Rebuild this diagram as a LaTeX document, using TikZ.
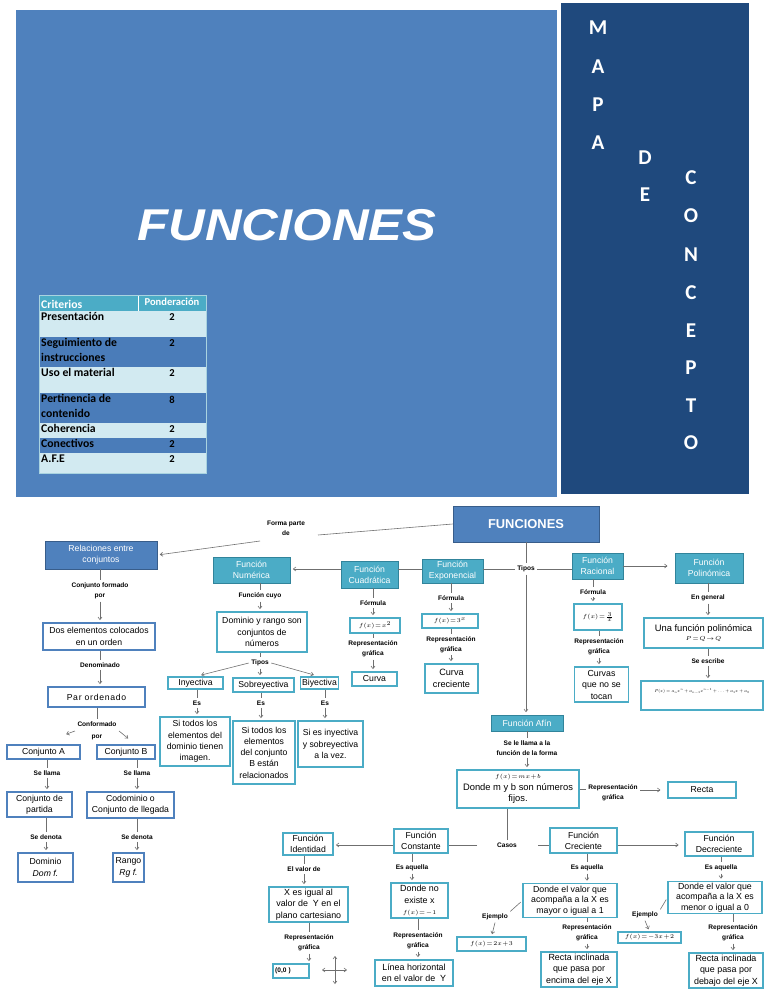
\documentclass[tikz,border=0pt]{standalone}
\usepackage{fontspec}
\usepackage{graphicx}
\setmainfont{Liberation Sans}
\newfontfamily\calib{Carlito}
\usetikzlibrary{arrows.meta}

\definecolor{pageblue}{HTML}{4F81BD}
\definecolor{navy}{HTML}{1F497D}
\definecolor{darkedge}{HTML}{385D8A}
\definecolor{celeste}{HTML}{4BACC6}
\definecolor{celesteedge}{HTML}{31849B}
\definecolor{rowlight}{HTML}{D2EAF1}
\definecolor{rowdark}{HTML}{4A7CB9}
\definecolor{tabline}{HTML}{A9D3E0}
\definecolor{linkgray}{HTML}{6F6F6F}

\newcommand\smallmath[1]{{\fontsize{5}{6}\selectfont$\medmuskip=1mu\thickmuskip=1.5mu #1$}}

\begin{document}
\begin{tikzpicture}[x=0.03cm, y=-0.03cm,
  >={Straight Barb[length=2.2pt,width=3.4pt]},
  sz/.style 2 args={minimum width=#1*0.03cm, minimum height=#2*0.03cm},
  base/.style={inner sep=0pt, align=center, font=\fontsize{7.4}{9.6}\selectfont},
  darkbox/.style={base, fill=pageblue, draw=darkedge, line width=0.8pt, text=white},
  tealbox/.style={base, fill=celeste, draw=celesteedge, line width=0.8pt, text=white},
  wbox/.style={base, fill=white, draw=celeste, line width=0.9pt},
  bbox/.style={base, fill=white, draw=pageblue, line width=0.9pt},
  lbl/.style={inner sep=2pt, align=center, font=\fontsize{5.6}{8.5}\selectfont\bfseries},
  link/.style={draw=linkgray, line width=0.5pt},
  arr/.style={link, ->, shorten >=2pt},
  letter/.style={text=white, inner sep=0pt, font=\calib\fontsize{18}{18}\selectfont\bfseries},
  celltext/.style={inner sep=0pt, anchor=north west, align=left, text=black, font=\calib\fontsize{10}{12.7}\selectfont\bfseries},
  cellval/.style={inner sep=0pt, anchor=north, text=black, font=\calib\fontsize{9}{10}\selectfont\bfseries}]

  \fill[white] (0,0) rectangle (768,994);
  \useasboundingbox (0,0) rectangle (768,994);

  \fill[pageblue] (16,10) rectangle (557,497);
  \fill[navy] (561,3) rectangle (749,494);
  \node[text=white, inner sep=0pt, font=\fontsize{38}{40}\selectfont\bfseries\itshape] (titulo) at (287,225) {\scalebox{1.14}[1]{FUNCIONES}};

  \foreach \ch/\px/\py [count=\i] in {M/598/28, A/598/67, P/598/105, A/598/143, D/645/158, E/645/195,
      C/691/178, O/691/216, N/691/255, C/691/293, E/691/331, P/691/368, T/691/406, O/691/443}
    \node[letter] (letra\i) at (\px,\py) {\ch};

  \fill[celeste] (39,295) rectangle (206,311);
  \draw[white, line width=0.6pt] (138,295) -- (138,311);
  \node[inner sep=0pt, anchor=west, text=white, font=\calib\fontsize{10}{12}\selectfont\bfseries] (crit) at (41,304) {Criterios};
  \node[inner sep=0pt, text=white, font=\calib\fontsize{9}{11}\selectfont\bfseries] (pond) at (172,302) {Ponderación};
  \foreach \ya/\yb/\col/\txt/\val in {311/337/rowlight/Presentación/2,
      337/367/rowdark/{Seguimiento de\\instrucciones}/2,
      367/393/rowlight/Uso el material/2,
      393/423/rowdark/{Pertinencia de\\contenido}/8,
      423/438/rowlight/Coherencia/2,
      438/453/rowdark/Conectivos/2,
      453/473/rowlight/A.F.E/2}{
    \fill[\col] (39,\ya) rectangle (206,\yb);
    \draw[tabline, line width=0.5pt] (39,\yb) -- (206,\yb);
    \node[celltext] (crit\ya) at (41,\ya+1.5) {\txt};
    \node[cellval] (val\ya) at (172,\ya+2.5) {\val};
  }
  \draw[tabline, line width=0.8pt] (39,295) rectangle (206,473);

  \node[darkbox, sz={146}{36}, font=\fontsize{11}{13}\selectfont\bfseries] (fun) at (526,524) {FUNCIONES};
  \node[darkbox, sz={112}{28}] (rel) at (101,555) {Relaciones entre\\conjuntos};
  \node[lbl] (fpd) at (286,528) {Forma parte\\de};
  \coordinate (fp1) at (318,535);
  \coordinate (fp2) at (260,541);
  \draw[link] (fun.west) -- (fp1);
  \draw[arr] (fp2) -- (rel.east);

  \node[lbl] (cfp) at (100,591) {Conjunto formado\\por};
  \node[bbox, sz={112}{27}] (dos) at (99,636.5) {Dos elementos colocados\\en un orden};
  \draw[link] (rel.south -| cfp) -- (cfp.north);
  \draw[arr] (cfp.south) -- (cfp.south |- dos.north);

  \node[lbl] (den) at (100,665) {Denominado};
  \node[bbox, sz={97}{20}] (par) at (96.5,697) {\addfontfeature{LetterSpace=8}Par ordenado};
  \draw[link] (dos.south -| den) -- (den.north);
  \draw[arr] (den.south) -- (den.south |- par.north);

  \node[lbl] (conf) at (97,731) {Conformado\\[2pt]por};
  \coordinate (puntaA) at (64,735);
  \coordinate (puntaB) at (130,740);
  \draw[link] (par.south -| conf) -- (conf.north);
  \draw[arr] (conf.west) -- (puntaA);
  \draw[arr] (conf.east) -- (puntaB);

  \node[bbox, sz={73}{14}] (cA) at (43.5,752) {Conjunto A};
  \node[bbox, sz={58}{14}] (cB) at (126,752) {Conjunto B};
  \node[lbl] (sl1) at (47,773) {Se llama};
  \node[lbl] (sl2) at (137,773) {Se llama};
  \node[bbox, sz={65}{25}] (part) at (39.5,804.5) {Conjunto de\\partida};
  \node[bbox, sz={87}{26}] (codo) at (130.5,805) {Codominio o\\Conjunto de llegada};
  \draw[link] (cA.south -| sl1) -- (sl1.north);
  \draw[arr] (sl1.south) -- (sl1.south |- part.north);
  \draw[link] (cB.south -| sl2) -- (sl2.north);
  \draw[arr] (sl2.south) -- (sl2.south |- codo.north);

  \node[lbl] (sd1) at (46,837) {Se denota};
  \node[lbl] (sd2) at (137,837) {Se denota};
  \node[bbox, sz={55}{29}] (dom) at (45.5,867.5) {Dominio\\\textit{Dom f.}};
  \node[bbox, sz={31}{29}] (rgo) at (128.5,867.5) {Rango\\\textit{Rg f.}};
  \draw[link] (part.south -| sd1) -- (sd1.north);
  \draw[arr] (sd1.south) -- (sd1.south |- dom.north);
  \draw[link] (codo.south -| sd2) -- (sd2.north);
  \draw[arr] (sd2.south) -- (sd2.south |- rgo.north);

  \node[tealbox, sz={77}{26}] (num) at (251.5,570) {Función\\Numérica};
  \node[tealbox, sz={57}{27}] (cuad) at (369.5,574.5) {Función\\Cuadrática};
  \node[tealbox, sz={61}{24}] (expo) at (452.5,571) {Función\\Exponencial};
  \node[lbl] (tipos) at (526,569) {Tipos};
  \node[tealbox, sz={51}{26}] (rac) at (597.5,566) {Función\\Racional};
  \node[tealbox, sz={68}{30}] (pol) at (709,568) {Función\\Polinómica};
  \draw[link] (fun.south) -- (tipos.north);
  \draw[link] (tipos.west) -- (tipos.west -| expo.east);
  \draw[link] (expo.west |- tipos) -- (cuad.east |- tipos);
  \draw[arr] (cuad.west |- tipos) -- (num.east |- tipos);
  \draw[link] (tipos.east) -- (tipos.east -| rac.west);
  \draw[arr, shorten >=6pt] (rac.east) -- (rac.east -| pol.west);

  \node[lbl] (cuyo) at (260,596) {Función cuyo};
  \node[wbox, sz={90}{40}] (dyr) at (262,632) {Dominio y rango son\\conjuntos de\\números};
  \draw[link] (cuyo.north |- num.south) -- (cuyo.north);
  \draw[arr] (cuyo.south) -- (cuyo.south |- dyr.north);

  \node[lbl] (tipos2) at (260,663) {Tipos};
  \node[wbox, sz={55}{12}] (iny) at (195.5,683) {Inyectiva};
  \node[wbox, sz={61}{14}] (sob) at (263.5,685) {Sobreyectiva};
  \node[wbox, sz={38}{12}] (biy) at (319.5,683) {Biyectiva};
  \draw[link] (dyr.south -| tipos2) -- (tipos2.north);
  \draw[arr, shorten >=5pt] (tipos2.west) -- (iny.north);
  \draw[arr] (tipos2.south) -- (tipos2.south |- sob.north);
  \draw[arr, shorten >=5pt] (tipos2.east) -- (biy.north);

  \node[lbl] (es1) at (197,703) {Es};
  \node[lbl] (es2) at (261,703) {Es};
  \node[lbl] (es3) at (325,703) {Es};
  \node[wbox, sz={70}{49}] (d1) at (195,741.5) {Si todos los\\elementos del\\dominio tienen\\imagen.};
  \node[wbox, sz={62}{63}] (d2) at (264,752.5) {Si todos los\\elementos\\del conjunto\\B están\\relacionados};
  \node[wbox, sz={65}{46}] (d3) at (330.5,744) {Si es inyectiva\\y sobreyectiva\\a la vez.};
  \draw[link] (iny.south -| es1) -- (es1.north);
  \draw[arr] (es1.south) -- (es1.south |- d1.north);
  \draw[link] (sob.south -| es2) -- (es2.north);
  \draw[arr] (es2.south) -- (es2.south |- d2.north);
  \draw[link] (biy.south -| es3) -- (es3.north);
  \draw[arr] (es3.south) -- (es3.south |- d3.north);

  \node[lbl] (f1) at (373,603) {Fórmula};
  \node[wbox, sz={50}{15}] (fq) at (375,625.5) {\smallmath{f(x)=x^2}};
  \node[lbl] (r1) at (373,649) {Representación\\gráfica};
  \node[wbox, sz={45}{14}] (cur) at (374.5,679) {Curva};
  \draw[link] (cuad.south -| f1) -- (f1.north);
  \draw[arr] (f1.south) -- (f1.south |- fq.north);
  \draw[link] (fq.south -| r1) -- (r1.north);
  \draw[arr] (r1.south) -- (r1.south |- cur.north);

  \node[lbl] (f2) at (451,598) {Fórmula};
  \node[wbox, sz={56}{14}] (fe) at (450,621) {\smallmath{f(x)=3^x}};
  \node[lbl] (r2) at (451,644.5) {Representación\\gráfica};
  \node[wbox, sz={53}{29}, font=\fontsize{7.8}{10}\selectfont] (cc) at (451.5,678.5) {Curva\\creciente};
  \draw[link] (expo.south -| f2) -- (f2.north);
  \draw[arr] (f2.south) -- (f2.south |- fe.north);
  \draw[link] (fe.south -| r2) -- (r2.north);
  \draw[arr] (r2.south) -- (r2.south |- cc.north);

  \node[lbl] (f3) at (593,592) {Fórmula};
  \node[wbox, sz={48}{26}] (fr) at (598,617) {\smallmath{f(x)=\frac{3}{x}}};
  \node[lbl] (r3) at (599,647) {Representación\\gráfica};
  \node[wbox, sz={54}{35}, font=\fontsize{7.5}{9.8}\selectfont] (cvs) at (601.5,684.5) {Curvas\\que no se\\tocan};
  \draw[link] (rac.south -| f3) -- (f3.north);
  \draw[arr] (f3.south) -- (f3.south |- fr.north);
  \draw[link] (fr.south -| r3) -- (r3.north);
  \draw[arr] (r3.south) -- (r3.south |- cvs.north);

  \node[lbl] (eng) at (708,598) {En general};
  \node[wbox, sz={119}{30}, font=\fontsize{8}{10}\selectfont] (una) at (703.5,633) {Una función polinómica\\[-2pt]\smallmath{P=Q\to Q}};
  \node[lbl] (sesc) at (708,661) {Se escribe};
  \node[wbox, sz={122}{29}] (pxx) at (702,695.5) {\raisebox{8pt}{\resizebox{2.85cm}{!}{$P(x)=a_nx^n+a_{n-1}x^{n-1}+\ldots+a_1x+a_0$}}};
  \draw[link] (pol.south -| eng) -- (eng.north);
  \draw[arr] (eng.south) -- (eng.south |- una.north);
  \draw[link] (una.south -| sesc) -- (sesc.north);
  \draw[arr] (sesc.south) -- (sesc.south |- pxx.north);

  \node[tealbox, sz={72}{16}] (afin) at (527,723) {Función Afín};
  \draw[arr] (tipos.south) -- (tipos.south |- afin.north);
  \node[lbl] (sll) at (527,748) {Se le llama a la\\función de la forma};
  \node[wbox, sz={122}{38}, font=\fontsize{8}{9.8}\selectfont] (fx) at (518,789) {\smallmath{f(x)=mx+b}\\Donde m y b son números\\fijos.};
  \draw[link] (afin.south) -- (sll.north);
  \draw[arr] (sll.south) -- (sll.south |- fx.north);
  \node[lbl] (r4) at (613,792.5) {Representación\\gráfica};
  \node[wbox, sz={68}{16}] (rec) at (702,790) {Recta};
  \draw[link] (fx.east) -- (fx.east -| r4.west);
  \draw[arr, shorten >=6pt] (r4.east |- rec) -- (rec.west);

  \node[lbl] (cas) at (507,845) {Casos};
  \node[wbox, sz={54}{24}] (cons) at (421,841) {Función\\Constante};
  \node[wbox, sz={50}{22}] (iden) at (308,844) {Función\\Identidad};
  \node[wbox, sz={67}{25}] (crec) at (583.5,840.5) {Función\\Creciente};
  \node[wbox, sz={68}{24}] (decr) at (719,844) {Función\\Decreciente};
  \draw[link] (cas.north |- fx.south) -- (cas.north);
  \draw[link, shorten <=15pt] (cas.west) -- (cas.west -| cons.east);
  \draw[link, shorten <=16pt] (cas.east) -- (cas.east -| crec.west);
  \draw[arr] (cons.west |- cas) -- (iden.east |- cas);
  \draw[arr, shorten >=5pt] (crec.east |- cas) -- (decr.west |- cas);

  \node[lbl] (ev) at (304,869) {El valor de};
  \node[wbox, sz={79}{35}, font=\fontsize{7.6}{9.6}\selectfont] (xig) at (308.5,904.5) {X es igual al\\valor de \ Y en el\\plano cartesiano};
  \node[lbl] (r5) at (309,943) {Representación\\gráfica};
  \node[wbox, sz={36}{14}, align=left, text width=0.95cm, font=\fontsize{5.6}{7}\selectfont\bfseries] (ori) at (291,971) {(0,0 )};
  \draw[link] (iden.south -| ev) -- (ev.north);
  \draw[arr] (ev.south) -- (ev.south |- xig.north);
  \draw[link] (xig.south -| r5) -- (r5.north);
  \draw[arr] (r5.south) -- (r5.south |- ori.north);
  \coordinate (ejeL) at (322,970);
  \coordinate (ejeR) at (347,970);
  \coordinate (ejeT) at (335,956);
  \coordinate (ejeB) at (335,984);
  \draw[link, <->] (ejeL) -- (ejeR);
  \draw[link, <->] (ejeT) -- (ejeB);

  \node[lbl] (ea1) at (412,868) {Es aquella};
  \node[wbox, sz={57}{35}, font=\fontsize{7.6}{9.6}\selectfont] (dne) at (419.5,900.5) {Donde no\\existe x\\\smallmath{f(x)=-1}};
  \node[lbl] (r6) at (418,941) {Representación\\gráfica};
  \node[wbox, sz={78}{26}, font=\fontsize{7.6}{9.6}\selectfont] (lh) at (414,973) {Línea horizontal\\en el valor de \ Y};
  \draw[link] (cons.south -| ea1) -- (ea1.north);
  \draw[arr] (ea1.south) -- (ea1.south |- dne.north);
  \draw[link] (dne.south -| r6) -- (r6.north);
  \draw[arr] (r6.south) -- (r6.south |- lh.north);

  \node[lbl] (ea2) at (587,868) {Es aquella};
  \node[wbox, sz={94}{34}, font=\fontsize{7.5}{9}\selectfont] (dv1) at (570,900.5) {Donde el valor que\\acompaña a la X es\\mayor o igual a 1};
  \node[lbl] (ej1) at (495,917) {Ejemplo};
  \node[wbox, sz={69}{14}] (ex1) at (491.5,944) {\smallmath{f(x)=2x+3}};
  \node[lbl] (r7) at (587,933) {Representación\\gráfica};
  \node[wbox, sz={76}{35}, font=\fontsize{7.6}{9.6}\selectfont] (rci1) at (579,969.5) {Recta inclinada\\que pasa por\\encima del eje X};
  \draw[link] (crec.south -| ea2) -- (ea2.north);
  \draw[arr] (ea2.south) -- (ea2.south |- dv1.north);
  \draw[link, shorten <=2pt] (dv1.west) -- (ej1.north east);
  \draw[arr] (ej1.south) -- (ex1.north);
  \draw[link] (dv1.south -| r7) -- (r7.north);
  \draw[arr] (r7.south) -- (r7.south |- rci1.north);

  \node[lbl] (ea3) at (721,868) {Es aquella};
  \node[wbox, sz={94}{32}, font=\fontsize{7.5}{9}\selectfont] (dv2) at (715,897.5) {Donde el valor que\\acompaña a la X es\\menor o igual a 0};
  \node[lbl] (ej2) at (645,915) {Ejemplo};
  \node[wbox, sz={63}{11}] (ex2) at (649.5,937.5) {\smallmath{f(x)=-3x+2}};
  \node[lbl] (r8) at (733,933) {Representación\\gráfica};
  \node[wbox, sz={74}{35}, font=\fontsize{7.6}{9.6}\selectfont] (rci2) at (726,970.5) {Recta inclinada\\que pasa por\\debajo del eje X};
  \draw[link] (decr.south -| ea3) -- (ea3.north);
  \draw[arr] (ea3.south) -- (ea3.south |- dv2.north);
  \draw[link, shorten <=2pt] (dv2.west) -- (ej2.north east);
  \draw[arr] (ej2.south) -- (ex2.north);
  \draw[link] (dv2.south -| r8) -- (r8.north);
  \draw[arr] (r8.south) -- (r8.south |- rci2.north);
\end{tikzpicture}
\end{document}
